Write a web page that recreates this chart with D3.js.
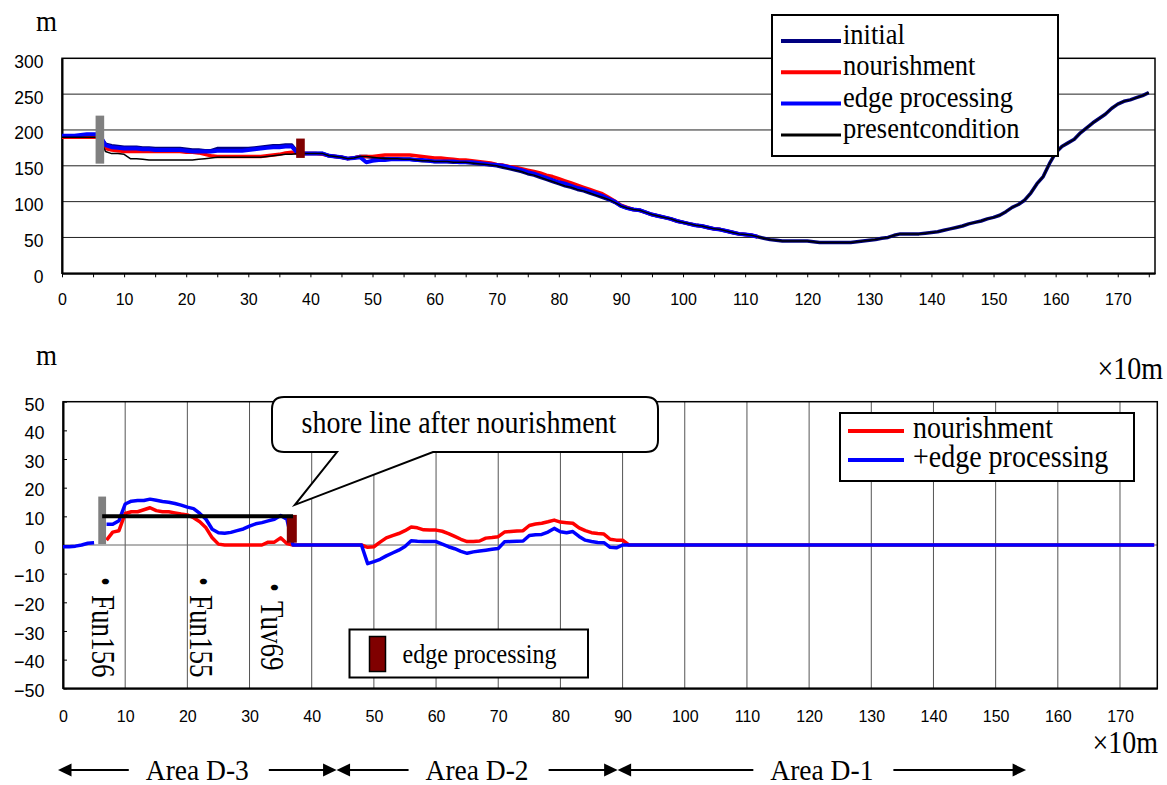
<!DOCTYPE html>
<html>
<head>
<meta charset="utf-8">
<script src="https://cdn.jsdelivr.net/npm/d3@7"></script>
<style>
body { margin: 0; background: #fff; }
svg { display: block; }
</style>
</head>
<body>
<svg width="1167" height="785"></svg>
<script>
var serif = '"Liberation Serif","Times New Roman","Noto Sans CJK JP",serif';
var sans = '"Liberation Sans",Arial,sans-serif';

// ---- data (stations are in units of 10 m) ----
var stations = d3.range(0, 176);

// shoreline position (m), stations 0-92, upper chart
var initialHead = [190,190,190,191,192,192,192,
  180,178,177,176,176,176,175,175,174,174,174,174,174,173,172,172,171,171,174,174,174,174,174,174,175,176,177,178,178,179,179,
  168,167,167,167,167,164,163,162,160,161,163,163,162,161,160,160,160,159,159,158,157,157,156,156,156,155,155,155,154,153,152,151,
  150,148,146,144,142,139,137,134,131,128,125,122,120,117,115,112,109,106,103,99,94,91,89];
var nourishHead = [190,190,190,190,190,190,190,
  174,172,171,170,170,170,170,170,170,170,170,170,170,169,169,168,166,164,163,163,163,163,163,163,163,163,164,165,166,168,169,
  167,167,167,167,166,164,163,162,160,161,163,163,163,164,165,165,165,165,165,164,163,162,161,161,160,159,158,158,157,156,155,154,
  152,151,149,148,146,144,142,140,137,135,132,129,126,123,120,117,114,111,106,101,95,92,89];
var edgeHead = [192,192,192,193,194,194,194,
  179,176,175,174,174,174,173,173,172,172,172,172,172,171,170,170,170,170,171,171,171,171,171,172,173,174,175,176,176,177,177,
  167,167,167,167,167,164,163,162,160,161,162,155,157,158,158,159,159,159,159,158,158,157,156,156,156,156,155,155,155,154,153,152,
  151,150,148,146,144,141,139,136,133,130,127,125,122,119,117,114,111,108,104,100,94,91,89];
var presentHead = [190,190,190,190,190,190,190,
  170,167,167,166,160,160,159,158,158,158,158,158,158,158,158,159,160,161,162,162,162,162,162,162,162,162,163,164,165,166,166,
  167,167,167,167,167,164,163,162,160,161,163,163,162,161,160,160,160,159,159,158,157,157,156,156,156,155,155,155,154,153,152,151,
  150,148,146,144,142,139,137,134,131,128,125,122,120,117,115,112,109,106,103,99,94,91,89];
// stations 93-175: the profiles coincide
var commonTail = [88,85,82,80,78,76,73,71,69,67,66,64,62,61,59,57,55,54,53,51,
  49,47,46,45,45,45,45,45,44,43,43,43,43,43,43,44,45,46,47,49,
  50,53,55,55,55,55,56,57,58,60,62,64,66,69,71,73,76,78,81,86,
  92,96,102,112,125,135,153,168,177,182,187,196,203,210,216,222,230,236,240,242,
  245,248,252];

var topSeries = [
  {name: "initial", values: initialHead.concat(commonTail), color: "#000080", width: 3.5},
  {name: "nourishment", values: nourishHead.concat(commonTail.slice(0, 20)), color: "#ff0000", width: 3.5},
  {name: "edge processing", values: edgeHead.concat(commonTail.slice(0, 20)), color: "#0000ff", width: 4},
  {name: "presentcondition", values: presentHead.concat(commonTail), color: "#000000", width: 1.5}
];
var topXTicks = d3.range(0, 176, 5);
var topYTicks = [0, 50, 100, 150, 200, 250, 300];
var topGrid = [50, 100, 150, 200, 250];
// station, from, to (m)
var topBars = [[6.1, 153, 220], [38.4, 161, 188]];

// change of shoreline (m), lower chart
var bottomStations = d3.range(0, 93).concat([175.5]);
var nourishDiff = [null,null,null,null,null,null,null,
  1.7,4.5,5,11,11.6,11.6,12.3,13,12,11.6,11.6,11.2,10.8,10.5,9.5,8.1,6,2.5,0.3,0,0,0,0,0,0,0,1,1,2.5,0.5,0,
  0,0,0,0,0,0,0,0,0,0,0,-0.8,-0.6,1,2.5,3.3,4,5,6.3,6,5.3,5.2,5.2,4.8,4,3,2,1.2,1.2,1.4,2.4,2.6,
  2.9,4.5,4.7,4.9,5,6.8,7.3,7.6,8.1,8.7,8,7.8,7.6,6,5,4.3,4,3.8,2,1.7,1.7,0,0,0];
var edgeDiff = [-0.6,-0.6,-0.4,0,0.6,0.8,null,
  7.2,7.2,8.5,14.3,15.3,15.5,15.5,16,15.6,15.2,14.9,14.5,13.9,13.2,12.7,11,9,5.5,4.3,4.1,4.4,5,5.6,6.6,7.4,7.8,8.4,9,10.3,9,0,
  0,0,0,0,0,0,0,0,0,0,0,-6.5,-5.8,-5,-3.8,-2.8,-1.8,-0.5,1.5,1.3,1.2,1.2,1.2,0.3,-0.6,-1.3,-2.2,-2.9,-2.4,-2.1,-1.8,-1.5,
  -1.2,1.1,1.2,1.3,1.4,3.3,3.6,3.7,4.5,5.8,4.6,4.3,4.7,3,1.7,1.2,0.9,0.8,-0.8,-1,0,0,0,0];
var bottomSeries = [
  {name: "nourishment", values: nourishDiff, color: "#ff0000"},
  {name: "+edge processing", values: edgeDiff, color: "#0000ff"}
];
var bottomXTicks = d3.range(0, 171, 10);
var bottomYTicks = d3.range(-50, 51, 10);
var bottomBars = [[6.3, 0.3, 16.9], [36.8, 0.8, 10.5]];
var shoreAfter = [[6.3, 10], [37, 10]];
var stationNames = ["・Fun156", "・Fun155", "・Tuv69"];
var stationAt = [6.4, 22.2, 33.6];
var areaNames = ["Area D-3", "Area D-2", "Area D-1"];
var areaBounds = [-0.8, 44, 89.2, 154.9];

var svg = d3.select("svg");

function serifText(parent, str, x, y, size, anchor, rot, stretch) {
  return parent.append("text")
    .attr("transform", "translate(" + x + "," + y + ")" + (rot ? " rotate(" + rot + ")" : "") +
      " scale(1," + (stretch || 1.1) + ")")
    .attr("text-anchor", anchor || "start")
    .style("font-family", serif)
    .style("font-size", size + "px")
    .attr("fill", "#000")
    .text(str);
}

//////////////// upper chart
var x1 = d3.scaleLinear().domain([0, 176]).range([62, 1155]),
    y1 = d3.scaleLinear().domain([0, 300]).range([273.3, 58.3]);

var upper = svg.append("g");

upper.selectAll(".grid").data(topGrid).enter().append("line")
  .attr("x1", x1(0)).attr("x2", x1(176))
  .attr("y1", function(d) { return y1(d); })
  .attr("y2", function(d) { return y1(d); })
  .attr("stroke", "#222").attr("stroke-width", 1);

upper.append("rect")
  .attr("x", x1(0)).attr("y", y1(300))
  .attr("width", x1(176) - x1(0)).attr("height", y1(0) - y1(300))
  .attr("fill", "none").attr("stroke", "#000").attr("stroke-width", 1.5);

upper.append("g")
  .attr("transform", "translate(0," + y1(0) + ")")
  .call(d3.axisBottom(x1).tickValues(topXTicks).tickSize(4).tickSizeOuter(0)
    .tickFormat(function(d) { return d % 10 === 0 ? d : ""; }))
  .call(function(g) {
    g.select(".domain").attr("stroke-width", 2);
    g.selectAll("text").attr("y", 32).attr("dy", 0)
      .style("font-family", sans).style("font-size", "16px").attr("fill", "#000");
  });

upper.append("g")
  .attr("transform", "translate(" + x1(0) + ",0)")
  .call(d3.axisLeft(y1).tickValues(topYTicks).tickSize(0).tickSizeOuter(0))
  .call(function(g) {
    g.select(".domain").attr("stroke-width", 2);
    g.selectAll("text").attr("x", -18.5).attr("y", 9).attr("dy", 0)
      .style("font-family", sans).style("font-size", "17.5px").attr("fill", "#000");
  });

var line1 = d3.line()
  .x(function(d, i) { return x1(stations[i]); })
  .y(function(d) { return y1(d); });

upper.selectAll(".series").data(topSeries).enter().append("path")
  .attr("d", function(s) { return line1(s.values); })
  .attr("fill", "none")
  .attr("stroke", function(s) { return s.color; })
  .attr("stroke-width", function(s) { return s.width; })
  .attr("stroke-linejoin", "round");

upper.selectAll(".bar").data(topBars).enter().append("rect")
  .attr("x", function(d) { return x1(d[0]) - 4.3; })
  .attr("width", 8.6)
  .attr("y", function(d) { return y1(d[2]); })
  .attr("height", function(d) { return y1(d[1]) - y1(d[2]); })
  .attr("fill", function(d, i) { return i === 0 ? "#808080" : "#800000"; });

serifText(svg, "m", 36, 30.5, 27);

// legend
var leg1 = svg.append("g");
leg1.append("rect").attr("x", 772).attr("y", 15).attr("width", 286).attr("height", 141)
  .attr("fill", "#fff").attr("stroke", "#000").attr("stroke-width", 2);
topSeries.forEach(function(s, i) {
  var by = 44 + i * 31.3;
  leg1.append("line").attr("x1", 781).attr("x2", 841).attr("y1", by - 3).attr("y2", by - 3)
    .attr("stroke", s.color).attr("stroke-width", s.width === 1.5 ? 3 : 4);
  serifText(leg1, s.name, 843, by, 26.5);
});

//////////////// lower chart
var x2 = d3.scaleLinear().domain([0, 176]).range([63, 1157.3]),
    y2 = d3.scaleLinear().domain([-50, 50]).range([688.3, 401.7]);

var lower = svg.append("g");

lower.selectAll(".vgrid").data(bottomXTicks.slice(1)).enter().append("line")
  .attr("x1", function(d) { return x2(d); })
  .attr("x2", function(d) { return x2(d); })
  .attr("y1", y2(50)).attr("y2", y2(-50))
  .attr("stroke", "#555").attr("stroke-width", 1);

lower.append("line")
  .attr("x1", x2(0)).attr("x2", x2(176)).attr("y1", y2(0)).attr("y2", y2(0))
  .attr("stroke", "#666").attr("stroke-width", 1);

lower.append("rect")
  .attr("x", x2(0)).attr("y", y2(50))
  .attr("width", x2(176) - x2(0)).attr("height", y2(-50) - y2(50))
  .attr("fill", "none").attr("stroke", "#000").attr("stroke-width", 1.5);

lower.append("g")
  .attr("transform", "translate(0," + y2(-50) + ")")
  .call(d3.axisBottom(x2).tickValues(bottomXTicks).tickSize(0).tickSizeOuter(0))
  .call(function(g) {
    g.select(".domain").attr("stroke-width", 2);
    g.selectAll("text").attr("y", 33.4).attr("dy", 0)
      .style("font-family", sans).style("font-size", "16px").attr("fill", "#000");
  });

lower.append("g")
  .attr("transform", "translate(" + x2(0) + ",0)")
  .call(d3.axisLeft(y2).tickValues(bottomYTicks).tickSize(-4).tickSizeOuter(0))
  .call(function(g) {
    g.select(".domain").attr("stroke-width", 2);
    g.selectAll("text").attr("x", -18.4).attr("y", 8.3).attr("dy", 0)
      .style("font-family", sans).style("font-size", "18px").attr("fill", "#000");
  });

var line2 = d3.line()
  .defined(function(d) { return d !== null; })
  .x(function(d, i) { return x2(bottomStations[i]); })
  .y(function(d) { return y2(d); });

lower.selectAll(".series").data(bottomSeries).enter().append("path")
  .attr("d", function(s) { return line2(s.values); })
  .attr("fill", "none")
  .attr("stroke", function(s) { return s.color; })
  .attr("stroke-width", 3.5)
  .attr("stroke-linejoin", "round");

lower.selectAll(".bar").data(bottomBars).enter().append("rect")
  .attr("x", function(d, i) { return x2(d[0]) - (i === 0 ? 3.9 : 5); })
  .attr("width", function(d, i) { return i === 0 ? 7.8 : 10; })
  .attr("y", function(d) { return y2(d[2]); })
  .attr("height", function(d) { return y2(d[1]) - y2(d[2]); })
  .attr("fill", function(d, i) { return i === 0 ? "#808080" : "#800000"; });

lower.append("path")
  .attr("d", d3.line().x(function(d) { return x2(d[0]); }).y(function(d) { return y2(d[1]); })(shoreAfter))
  .attr("stroke", "#000").attr("stroke-width", 4);

// station names, written downwards
stationNames.forEach(function(n, i) {
  serifText(lower, n, x2(stationAt[i]) - 11, 568 + (i === 2 ? 6 : 0), 27, "start", 90, 1.25);
});

serifText(svg, "m", 36, 365, 27);
serifText(svg, "×10m", 1163, 379, 28, "end");
serifText(svg, "×10m", 1158, 753, 28, "end");

// callout
var tip = [x2(37.3), y2(14)];
svg.append("path")
  .attr("d", "M284,397 L646,397 Q658,397 658,409 L658,440 Q658,452 646,452 L433,452 L" +
    tip[0] + "," + tip[1] + " L337,452 L284,452 Q272,452 272,440 L272,409 Q272,397 284,397 Z")
  .attr("fill", "#fff").attr("stroke", "#000").attr("stroke-width", 2);
serifText(svg, "shore line after nourishment", 459, 433, 28, "middle");

// legend lower
var leg2 = svg.append("g");
leg2.append("rect").attr("x", 840).attr("y", 413).attr("width", 294).attr("height", 68)
  .attr("fill", "#fff").attr("stroke", "#000").attr("stroke-width", 2);
bottomSeries.forEach(function(s, i) {
  var by = 438 + i * 29;
  leg2.append("line").attr("x1", 848).attr("x2", 904).attr("y1", by - 7).attr("y2", by - 7)
    .attr("stroke", s.color).attr("stroke-width", 4);
  serifText(leg2, s.name, 913, by, 28);
});

// edge processing box
var leg3 = svg.append("g");
leg3.append("rect").attr("x", 349.5).attr("y", 629.5).attr("width", 238.5).attr("height", 48)
  .attr("fill", "#fff").attr("stroke", "#000").attr("stroke-width", 2);
leg3.append("rect").attr("x", 369.5).attr("y", 636.5).attr("width", 16).attr("height", 35)
  .attr("fill", "#800000").attr("stroke", "#000").attr("stroke-width", 1.5);
serifText(leg3, "edge processing", 402.6, 663, 24);

// area arrows
var ay = 770;
areaNames.forEach(function(n, i) {
  var l = x2(areaBounds[i]), r = x2(areaBounds[i + 1]), c = (l + r) / 2;
  var t = serifText(svg, n, c, 779.5, 27.5, "middle", 0, 1.05);
  var w = t.node().getComputedTextLength();
  svg.append("line").attr("x1", l + 12).attr("x2", c - w / 2 - 17).attr("y1", ay).attr("y2", ay)
    .attr("stroke", "#000").attr("stroke-width", 2);
  svg.append("line").attr("x1", c + w / 2 + 20).attr("x2", r - 12).attr("y1", ay).attr("y2", ay)
    .attr("stroke", "#000").attr("stroke-width", 2);
  svg.append("path").attr("d", "M" + l + "," + ay + " L" + (l + 13.5) + "," + (ay - 6.5) + " L" + (l + 13.5) + "," + (ay + 6.5) + " Z");
  svg.append("path").attr("d", "M" + r + "," + ay + " L" + (r - 13.5) + "," + (ay - 6.5) + " L" + (r - 13.5) + "," + (ay + 6.5) + " Z");
});
</script>
</body>
</html>
